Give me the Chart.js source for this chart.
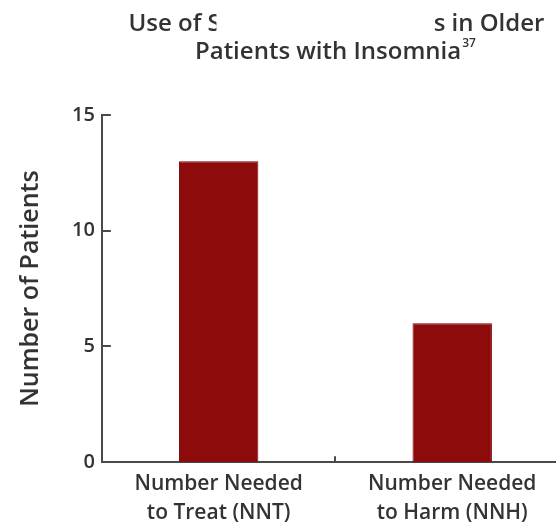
<!DOCTYPE html>
<html><head><meta charset="utf-8">
<script src="https://cdn.jsdelivr.net/npm/chart.js@4"></script>
<style>
html,body{margin:0;padding:0;background:#fff;overflow:hidden;width:556px;height:524px}
#wrap{position:absolute;left:0;top:0;width:580px;height:524px}
</style>
</head><body><div id="wrap"><canvas id="c" width="580" height="524"></canvas></div>
<script>
const categories = [['Number Needed', 'to Treat (NNT)'], ['Number Needed', 'to Harm (NNH)']];
const patients = [13, 6];
const yTickValues = [0, 5, 10, 15];
const titleLeft = 'Use of S';
const titleRight = 's in Older';
const titleLine2 = 'Patients with Insomnia';
const titleRef = '37';
const yTitle = 'Number of Patients';

const FONT = "'Open Sans', 'DejaVu Sans', sans-serif";
const TEXT = '#333333';
const AXIS = '#4a4a4a';
const BAR = '#8e0b0b';

const titlePlugin = {
  id: 'splitTitle',
  afterDraw(chart) {
    const ctx = chart.ctx, a = chart.chartArea;
    const cx = (a.left + a.right) / 2;
    ctx.save();
    ctx.fillStyle = TEXT;
    ctx.textBaseline = 'alphabetic';
    ctx.font = `600 24px ${FONT}`;
    // line 1, partially visible (middle of the original line is blank in the reference)
    const l1Left = cx - 207, l1Right = cx + 209, gapL = cx - 119;
    ctx.save();
    ctx.beginPath(); ctx.rect(0, 0, gapL, 40); ctx.clip();
    ctx.textAlign = 'left';
    ctx.fillText(titleLeft, l1Left, 31);
    ctx.restore();
    ctx.textAlign = 'right';
    ctx.fillText(titleRight, l1Right, 31);
    // line 2 with superscript reference
    const w2 = ctx.measureText(titleLine2).width;
    ctx.font = `600 12px ${FONT}`;
    const wr = ctx.measureText(titleRef).width;
    const start = cx - (w2 + wr + 1) / 2;
    ctx.font = `600 24px ${FONT}`;
    ctx.textAlign = 'left';
    ctx.fillText(titleLine2, start, 59);
    ctx.font = `600 12px ${FONT}`;
    ctx.fillText(titleRef, start + w2 + 1, 47);
    ctx.restore();
  }
};

const tickPlugin = {
  id: 'innerTicks',
  afterDraw(chart) {
    const ctx = chart.ctx, a = chart.chartArea;
    const ys = chart.scales.y, xs = chart.scales.x;
    ctx.save();
    ctx.strokeStyle = AXIS;
    ctx.lineWidth = 2;
    yTickValues.forEach(v => {
      if (v === 0) return;
      const y = Math.round(ys.getPixelForValue(v));
      ctx.beginPath(); ctx.moveTo(a.left, y); ctx.lineTo(a.left + 9, y); ctx.stroke();
    });
    for (let i = 0; i < categories.length - 1; i++) {
      const x = Math.round((xs.getPixelForValue(i) + xs.getPixelForValue(i + 1)) / 2);
      ctx.beginPath(); ctx.moveTo(x, a.bottom); ctx.lineTo(x, a.bottom - 6); ctx.stroke();
    }
    ctx.restore();
  }
};

new Chart(document.getElementById('c'), {
  type: 'bar',
  data: {
    labels: categories,
    datasets: [{
      data: patients,
      backgroundColor: BAR,
      borderColor: '#7a0606',
      borderWidth: 1,
      categoryPercentage: 0.34,
      barPercentage: 1
    }]
  },
  options: {
    responsive: false,
    animation: false,
    devicePixelRatio: 1,
    layout: { padding: { top: 115, left: 16, right: 11, bottom: -11 } },
    plugins: { legend: { display: false }, title: { display: false }, tooltip: { enabled: false } },
    scales: {
      x: {
        offset: true,
        grid: { display: false, drawTicks: false },
        border: { display: true, color: AXIS, width: 2 },
        ticks: { color: TEXT, font: { family: FONT, size: 21, weight: '600', lineHeight: 1.4 }, padding: 7, maxRotation: 0 }
      },
      y: {
        min: 0, max: 15,
        afterBuildTicks(s) { s.ticks = yTickValues.map(v => ({ value: v })); },
        grid: { display: false, drawTicks: false },
        border: { display: true, color: AXIS, width: 2 },
        ticks: { color: TEXT, font: { family: FONT, size: 20, weight: '600' }, padding: 7 },
        title: { display: true, text: yTitle, color: TEXT, font: { family: FONT, size: 25, weight: '600' }, padding: { top: 0, bottom: 19 } }
      }
    }
  },
  plugins: [titlePlugin, tickPlugin]
});
</script>
</body></html>
